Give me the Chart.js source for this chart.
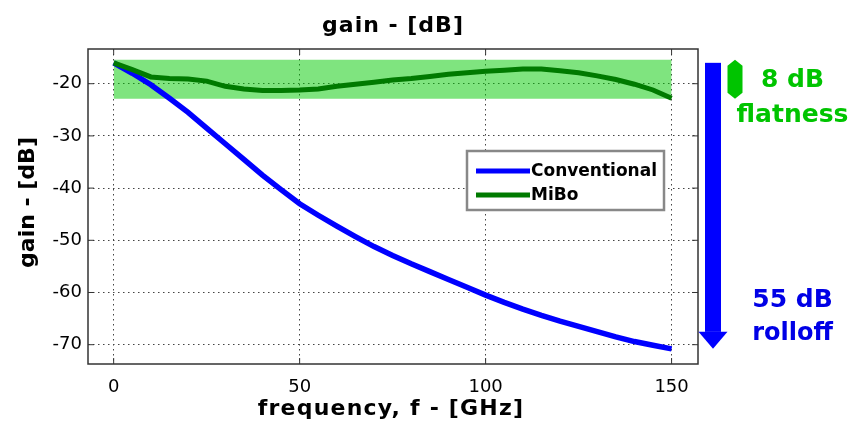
<!DOCTYPE html>
<html lang="en">
<head>
    <meta charset="UTF-8">
    <title>gain - [dB]</title>
    <script src="https://cdn.jsdelivr.net/npm/chart.js"></script>
    <style>
        body { margin: 0; background: #fff; }
        #wrap { width: 851px; height: 426px; }
    </style>
</head>
<body>
    <div id="wrap"><canvas id="gainChart" width="851" height="426"></canvas></div>

    <script>
        // frequency points (GHz)
        const freqs = [0, 5, 10, 15, 20, 25, 30, 35, 40, 45, 50, 55, 60, 65, 70, 75,
            80, 85, 90, 95, 100, 105, 110, 115, 120, 125, 130, 135, 140, 145, 150];

        // gain in dB
        const conventional = [-16, -18, -20.2, -22.8, -25.5, -28.5, -31.5, -34.5, -37.5, -40.3,
            -43, -45.2, -47.3, -49.3, -51.2, -52.9, -54.5, -56, -57.5, -59,
            -60.5, -61.9, -63.2, -64.4, -65.5, -66.5, -67.5, -68.5, -69.4, -70.1, -70.8];
        const mibo = [-16, -17.3, -18.7, -19, -19.1, -19.5, -20.5, -21, -21.3, -21.3,
            -21.2, -21, -20.5, -20.1, -19.7, -19.3, -19, -18.6, -18.2, -17.9,
            -17.6, -17.4, -17.2, -17.2, -17.5, -17.9, -18.5, -19.2, -20.1, -21.2, -22.8];

        // flatness band
        const bandFreq = [0, 150];
        const bandTop = [-15.4, -15.4];
        const bandBottom = [-22.9, -22.9];

        const seriesNames = ['Conventional', 'MiBo'];
        const xTicks = [0, 50, 100, 150];
        const yTicks = [-70, -60, -50, -40, -30, -20];

        const blue = '#0000ff';
        const darkGreen = '#007a00';
        const font = 'DejaVu Sans';

        const pts = (xs, ys) => xs.map((x, i) => ({ x: x, y: ys[i] }));

        // texts, frame, legend and arrows drawn on top
        const extras = {
            id: 'extras',
            afterDraw(chart) {
                const ctx = chart.ctx;
                const a = chart.chartArea;
                const xs = chart.scales.x, ys = chart.scales.y;
                ctx.save();

                // frame + inner tick marks
                ctx.strokeStyle = '#333';
                ctx.lineWidth = 1.5;
                ctx.strokeRect(a.left, a.top, a.right - a.left, a.bottom - a.top);
                ctx.lineWidth = 1;
                ctx.beginPath();
                xTicks.forEach(v => {
                    const px = xs.getPixelForValue(v);
                    ctx.moveTo(px, a.bottom); ctx.lineTo(px, a.bottom - 6);
                    ctx.moveTo(px, a.top); ctx.lineTo(px, a.top + 6);
                });
                yTicks.forEach(v => {
                    const py = ys.getPixelForValue(v);
                    ctx.moveTo(a.left, py); ctx.lineTo(a.left + 6, py);
                    ctx.moveTo(a.right, py); ctx.lineTo(a.right - 6, py);
                });
                ctx.stroke();

                // title and axis labels
                ctx.fillStyle = '#000';
                ctx.textAlign = 'center';
                ctx.textBaseline = 'alphabetic';
                ctx.font = 'bold 22px "' + font + '"';
                ctx.letterSpacing = '1px';
                ctx.fillText('gain - [dB]', (a.left + a.right) / 2, 32);
                ctx.letterSpacing = '1.2px';
                ctx.fillText('frequency, f - [GHz]', (a.left + a.right) / 2 - 2, 415);
                ctx.letterSpacing = '0px';
                ctx.save();
                ctx.translate(34, (a.top + a.bottom) / 2 - 4);
                ctx.rotate(-Math.PI / 2);
                ctx.fillText('gain - [dB]', 0, 0);
                ctx.restore();

                // legend box
                const lx = 467, ly = 151, lw = 197, lh = 59;
                ctx.fillStyle = '#fff';
                ctx.fillRect(lx, ly, lw, lh);
                ctx.strokeStyle = '#888';
                ctx.lineWidth = 2.5;
                ctx.strokeRect(lx, ly, lw, lh);
                const legendColors = [blue, darkGreen];
                ctx.font = 'bold 17px "' + font + '"';
                ctx.textAlign = 'left';
                ctx.textBaseline = 'middle';
                seriesNames.forEach((name, i) => {
                    const yy = 171 + i * 24;
                    ctx.strokeStyle = legendColors[i];
                    ctx.lineWidth = 5;
                    ctx.beginPath();
                    ctx.moveTo(476, yy); ctx.lineTo(530, yy);
                    ctx.stroke();
                    ctx.fillStyle = '#000';
                    ctx.fillText(name, 531, yy + 1);
                });

                // rolloff arrow, from first to last conventional value
                const yStart = ys.getPixelForValue(conventional[0]);
                const yEnd = ys.getPixelForValue(conventional[conventional.length - 1]);
                const ax = a.right + 15;
                ctx.fillStyle = blue;
                ctx.fillRect(ax - 8, yStart, 16, yEnd - 17 - yStart);
                ctx.beginPath();
                ctx.moveTo(ax - 14.5, yEnd - 17);
                ctx.lineTo(ax + 14.5, yEnd - 17);
                ctx.lineTo(ax, yEnd);
                ctx.closePath();
                ctx.fill();

                // flatness marker across the band
                const gTop = ys.getPixelForValue(bandTop[0]);
                const gBot = ys.getPixelForValue(bandBottom[0]);
                const gl = a.right + 29.5, gr = a.right + 44.5, gc = (gl + gr) / 2;
                ctx.fillStyle = '#00c400';
                ctx.beginPath();
                ctx.moveTo(gc, gTop);
                ctx.lineTo(gr, gTop + 6);
                ctx.lineTo(gr, gBot - 6);
                ctx.lineTo(gc, gBot);
                ctx.lineTo(gl, gBot - 6);
                ctx.lineTo(gl, gTop + 6);
                ctx.closePath();
                ctx.fill();

                // side notes
                ctx.font = 'bold 25px "' + font + '"';
                ctx.textAlign = 'center';
                ctx.textBaseline = 'alphabetic';
                const tx = a.right + 94.5;
                ctx.fillStyle = '#00c400';
                ctx.fillText('8 dB', tx, 87);
                ctx.fillText('flatness', tx, 122);
                ctx.fillStyle = '#0000e6';
                ctx.fillText('55 dB', tx, 307);
                ctx.font = 'bold 24px "' + font + '"';
                ctx.fillText('rolloff', tx, 340);

                ctx.restore();
            }
        };

        const ctx = document.getElementById('gainChart').getContext('2d');
        new Chart(ctx, {
            type: 'line',
            data: {
                datasets: [
                    {
                        label: seriesNames[0],
                        data: pts(freqs, conventional),
                        borderColor: blue,
                        borderWidth: 5.5,
                        pointRadius: 0,
                        fill: false,
                        order: 2
                    },
                    {
                        label: seriesNames[1],
                        data: pts(freqs, mibo),
                        borderColor: darkGreen,
                        borderWidth: 5,
                        pointRadius: 0,
                        fill: false,
                        order: 1
                    },
                    {
                        label: 'bandTop',
                        data: pts(bandFreq, bandTop),
                        borderWidth: 0,
                        borderColor: 'rgba(0,0,0,0)',
                        backgroundColor: 'rgba(0, 201, 0, 0.5)',
                        pointRadius: 0,
                        fill: '+1',
                        order: 3
                    },
                    {
                        label: 'bandBottom',
                        data: pts(bandFreq, bandBottom),
                        borderWidth: 0,
                        borderColor: 'rgba(0,0,0,0)',
                        pointRadius: 0,
                        fill: false,
                        order: 3
                    }
                ]
            },
            options: {
                responsive: false,
                animation: false,
                layout: { padding: { top: 49, right: 153, left: 0, bottom: 0 } },
                plugins: {
                    legend: { display: false },
                    title: { display: false },
                    tooltip: { enabled: false }
                },
                scales: {
                    x: {
                        type: 'linear',
                        min: -6.9,
                        max: 157.1,
                        afterBuildTicks: s => { s.ticks = xTicks.map(v => ({ value: v })); },
                        afterFit: s => { s.height = 62; },
                        grid: { color: '#444', drawTicks: false, lineWidth: 1 },
                        border: { display: false, dash: [1.5, 3.5] },
                        ticks: { color: '#000', padding: 13, maxRotation: 0, font: { family: font, size: 18 } }
                    },
                    y: {
                        type: 'linear',
                        min: -73.7,
                        max: -13.35,
                        afterBuildTicks: s => { s.ticks = yTicks.map(v => ({ value: v })); },
                        afterFit: s => { s.width = 88; },
                        grid: { color: '#444', drawTicks: false, lineWidth: 1 },
                        border: { display: false, dash: [1.5, 3.5] },
                        ticks: { color: '#000', padding: 6, font: { family: font, size: 18 } }
                    }
                }
            },
            plugins: [extras]
        });
    </script>
</body>
</html>
